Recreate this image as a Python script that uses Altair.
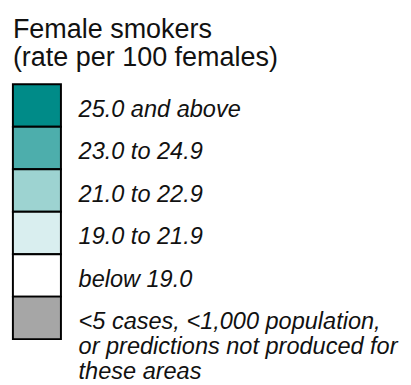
import altair as alt
import pandas as pd

title_lines = ["Female smokers", "(rate per 100 females)"]
categories = ["c1", "c2", "c3", "c4", "c5", "c6"]
labels = [
    ["25.0 and above"],
    ["23.0 to 24.9"],
    ["21.0 to 22.9"],
    ["19.0 to 21.9"],
    ["below 19.0"],
    ["<5 cases, <1,000 population,", "or predictions not produced for", "these areas"],
]
colors = ["#008B88", "#4DAEAC", "#9DD3D1", "#D9EEEF", "#FFFFFF", "#A6A6A6"]

df = pd.DataFrame({"cat": categories, "color": colors, "idx": list(range(len(categories)))})
df["idx2"] = df["idx"] + 1
lab_rows = []
for k, (c, ls) in enumerate(zip(categories, labels)):
    for i, t in enumerate(ls):
        lab_rows.append({"cat": c, "idx": k, "line": i, "text": t})
lab_df = pd.DataFrame(lab_rows)

n = len(categories)
yscale = alt.Scale(domain=[0, n], range=[74, 334], nice=False, zero=False)

boxes = alt.Chart(df).mark_rect(stroke="black", strokeWidth=2).encode(
    y=alt.Y("idx:Q", scale=yscale, axis=None),
    y2="idx2:Q",
    x=alt.value(5),
    x2=alt.value(54),
    fill=alt.Fill("color:N", scale=None),
)

labs = alt.Chart(lab_df).transform_calculate(
    pos="datum.idx + 0.5 + (datum.line * 25.5 + 11.5) / 43.333"
).mark_text(
    align="left", baseline="alphabetic", fontStyle="italic", font="Liberation Sans",
    fontSize=24, color="#111111"
).encode(
    y=alt.Y("pos:Q", scale=yscale, axis=None),
    x=alt.value(72),
    text="text:N",
)

title_df = pd.DataFrame({"text": ["\n".join(title_lines)]})
title = alt.Chart(title_df).mark_text(
    align="left", baseline="alphabetic", font="Liberation Sans", fontSize=27.5,
    color="#111111", lineBreak="\n", lineHeight=28
).encode(
    x=alt.value(5),
    y=alt.value(27),
    text="text:N",
)

chart = alt.layer(boxes, labs, title).resolve_scale(y="independent").properties(
    width=403, height=377, padding=0, autosize="none"
).configure_view(stroke=None)

chart.save("out.html", embed_options={"renderer": "svg", "actions": False})
